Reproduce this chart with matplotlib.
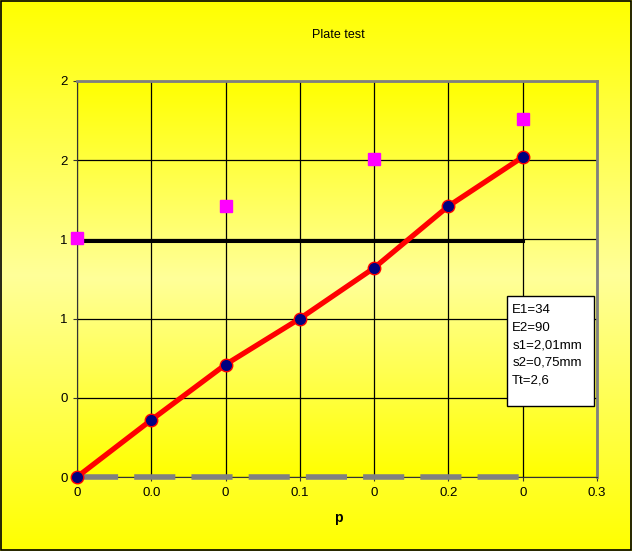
import numpy as np
import matplotlib
matplotlib.use('Agg')
import matplotlib.pyplot as plt
from matplotlib.colors import LinearSegmentedColormap

plt.rcParams['font.family'] = ['Liberation Sans', 'DejaVu Sans']

# data
p_vals = [0.0, 0.05, 0.10, 0.15, 0.20, 0.25, 0.30]
curve_vals = [0.0, 0.36, 0.71, 1.00, 1.32, 1.71, 2.02]
sq_p = [0.0, 0.10, 0.20, 0.30]
sq_vals = [1.51, 1.71, 2.01, 2.26]
level_p = [0.0, 0.30]
level_vals = [1.49, 1.49]
base_p = [0.0, 0.30]
base_vals = [0.0, 0.0]

xticks = [0.0, 0.05, 0.10, 0.15, 0.20, 0.25, 0.30, 0.35]
xlabels = ['0', '0.0', '0', '0.1', '0', '0.2', '0', '0.3']
yticks = [0.0, 0.5, 1.0, 1.5, 2.0, 2.5]
ylabels = ['0', '0', '1', '1', '2', '2']
info = 'E1=34\nE2=90\ns1=2,01mm\ns2=0,75mm\nTt=2,6'

fig = plt.figure(figsize=(6.32, 5.51), dpi=100)

# figure background gradient
bg = fig.add_axes([0, 0, 1, 1], zorder=-5)
cmap = LinearSegmentedColormap.from_list('yel', ['#FFFF00', '#FFFF99', '#FFFF00'])
grad = np.linspace(0, 1, 256).reshape(-1, 1)
bg.imshow(grad, aspect='auto', cmap=cmap, extent=[0, 1, 0, 1])
bg.set_xlim(0, 1)
bg.set_ylim(0, 1)
bg.axis('off')
bg.add_patch(plt.Rectangle((0.001, 0.001), 0.997, 0.997, fill=False, ec='black', lw=1.2))

ax = fig.add_axes([0.1218, 0.1343, 0.8228, 0.7187])
ax.imshow(grad, aspect='auto', cmap=cmap, extent=[0, 0.35, 0, 2.5], zorder=0)

ax.set_xlim(0, 0.35)
ax.set_ylim(0, 2.5)
ax.set_xticks(xticks)
ax.set_xticklabels(xlabels)
ax.set_yticks(yticks)
ax.set_yticklabels(ylabels)
ax.tick_params(axis='both', labelsize=9.5, length=3, direction='out', color='#333333')
ax.tick_params(axis='x', pad=4)
ax.grid(True, color='black', lw=0.9)
ax.set_axisbelow(True)

for s in ['top', 'right']:
    ax.spines[s].set_color('#808080')
    ax.spines[s].set_linewidth(2)
ax.spines['left'].set_color('#333333')
ax.spines['bottom'].set_color('#333333')

ax.plot(base_p, base_vals, color='#808080', lw=4, dashes=(7.4, 2.9), solid_capstyle='butt', zorder=3, clip_on=False)
ax.plot(level_p, level_vals, color='black', lw=2.2, zorder=3)
ax.plot(p_vals, curve_vals, color='red', lw=3.8, marker='o', markersize=9,
        markerfacecolor='#000080', markeredgecolor='red', markeredgewidth=1, zorder=4, clip_on=False)
ax.plot(sq_p, sq_vals, ls='none', marker='s', markersize=8.5, color='#FF00FF', zorder=5, clip_on=False)

# info box
ax.add_patch(plt.Rectangle((0.827, 0.179), 0.167, 0.278, transform=ax.transAxes,
                           fc='white', ec='black', lw=1, zorder=6))
ax.text(0.837, 0.437, info, transform=ax.transAxes, fontsize=9.5, va='top', ha='left',
        linespacing=1.62, zorder=7)

fig.text(0.536, 0.937, 'Plate test', ha='center', va='center', fontsize=9)
fig.text(0.536, 0.06, 'p', ha='center', va='center', fontsize=10, fontweight='bold')

fig.savefig('out.png', dpi=100)
